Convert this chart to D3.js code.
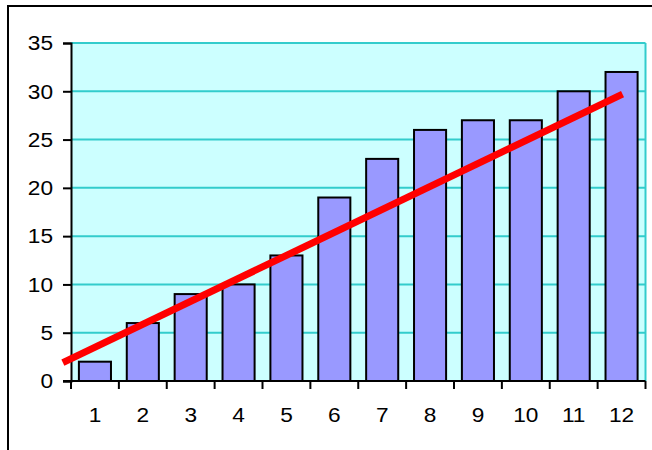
<!DOCTYPE html>
<html>
<head>
<meta charset="utf-8">
<script src="https://cdn.jsdelivr.net/npm/d3@7"></script>
<style>
  html, body { margin: 0; padding: 0; background: #ffffff; }
  svg { display: block; }
  text { font-family: Arial, "Liberation Sans", sans-serif; fill: #000; }
</style>
</head>
<body>
<script>
// Categories and bar values
const categories = ["1", "2", "3", "4", "5", "6", "7", "8", "9", "10", "11", "12"];
const values = [2, 6, 9, 10, 13, 19, 23, 26, 27, 27, 30, 32];
const yTicks = [0, 5, 10, 15, 20, 25, 30, 35];
// Trend line end points (x in category units, y in value units)
const trendPoints = [
  { x: 0.33, y: 1.9 },
  { x: 12.02, y: 29.7 }
];

const W = 652, H = 450;
const plot = { left: 71, top: 43, right: 645.5, bottom: 381 };
const labelSize = 21;
const labelStretch = 1.08;

const svg = d3.select("body").append("svg")
  .attr("width", W).attr("height", H);

// Outer frame (top and left edges visible)
svg.append("path")
  .attr("d", `M8,${H + 5} L8,6 L${W + 5},6`)
  .attr("fill", "none").attr("stroke", "#000").attr("stroke-width", 2);

const x = d3.scaleBand()
  .domain(categories)
  .range([plot.left, plot.right])
  .paddingInner(0.33)
  .paddingOuter(0.165);

// continuous x for the trend line: category i sits at centre of band i
const bandStep = (plot.right - plot.left) / categories.length;
const xLin = d3.scaleLinear()
  .domain([0.5, categories.length + 0.5])
  .range([plot.left, plot.right]);

const y = d3.scaleLinear().domain([0, 35]).range([plot.bottom, plot.top]);

// Plot background
svg.append("rect")
  .attr("x", plot.left).attr("y", plot.top)
  .attr("width", plot.right - plot.left).attr("height", plot.bottom - plot.top)
  .attr("fill", "#CCFFFF");

// Gridlines
svg.append("g").selectAll("line")
  .data(yTicks.filter(d => d > 0))
  .join("line")
  .attr("x1", plot.left).attr("x2", plot.right)
  .attr("y1", d => y(d)).attr("y2", d => y(d))
  .attr("stroke", "#33CCCC").attr("stroke-width", 2);

// Right border of the plot
svg.append("line")
  .attr("x1", plot.right).attr("x2", plot.right)
  .attr("y1", plot.top).attr("y2", plot.bottom)
  .attr("stroke", "#33CCCC").attr("stroke-width", 2);

// Bars
svg.append("g").selectAll("rect")
  .data(values)
  .join("rect")
  .attr("x", (d, i) => x(categories[i]))
  .attr("y", d => y(d))
  .attr("width", x.bandwidth())
  .attr("height", d => y(0) - y(d))
  .attr("fill", "#9999FF")
  .attr("stroke", "#000").attr("stroke-width", 2);

// Y axis
const yAxis = d3.axisLeft(y).tickValues(yTicks).tickSize(8).tickPadding(0);
const gy = svg.append("g").attr("transform", `translate(${plot.left},0)`).call(yAxis);
gy.select(".domain").attr("stroke", "#000").attr("stroke-width", 2);
gy.selectAll(".tick line").attr("stroke", "#000").attr("stroke-width", 2);
gy.selectAll(".tick text")
  .attr("x", null)
  .attr("font-size", labelSize)
  .attr("font-family", "Arial, 'Liberation Sans', sans-serif")
  .attr("fill", "#000")
  .attr("transform", `translate(-18,0) scale(${labelStretch},1)`);

// X axis: ticks at category boundaries, labels centred in bands
const boundaries = d3.range(categories.length + 1).map(i => plot.left + i * bandStep);
const gx = svg.append("g");
gx.append("line")
  .attr("x1", plot.left - 8).attr("x2", plot.right)
  .attr("y1", plot.bottom).attr("y2", plot.bottom)
  .attr("stroke", "#000").attr("stroke-width", 2);
gx.selectAll("line.tick")
  .data(boundaries)
  .join("line")
  .attr("class", "tick")
  .attr("x1", d => d).attr("x2", d => d)
  .attr("y1", plot.bottom).attr("y2", plot.bottom + 8)
  .attr("stroke", "#000").attr("stroke-width", 2);
gx.selectAll("text")
  .data(categories)
  .join("text")
  .attr("transform", d => `translate(${x(d) + x.bandwidth() / 2},421.5) scale(${labelStretch},1)`)
  .attr("text-anchor", "middle")
  .attr("font-size", labelSize)
  .text(d => d);

// Trend line
svg.append("line")
  .attr("x1", xLin(trendPoints[0].x)).attr("y1", y(trendPoints[0].y))
  .attr("x2", xLin(trendPoints[1].x)).attr("y2", y(trendPoints[1].y))
  .attr("stroke", "#FF0000").attr("stroke-width", 7);
</script>
</body>
</html>
